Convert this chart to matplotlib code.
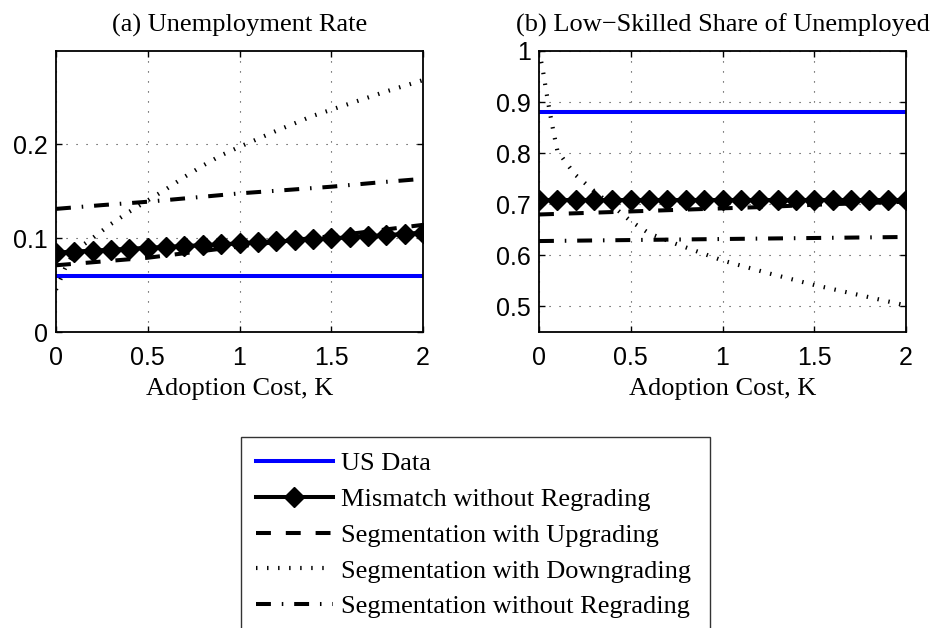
import matplotlib
matplotlib.use("Agg")
import matplotlib.pyplot as plt

# ----- Data -----
k_grid = [0.0, 0.1, 0.2, 0.3, 0.4, 0.5, 0.6, 0.7, 0.8, 0.9, 1.0,
          1.1, 1.2, 1.3, 1.4, 1.5, 1.6, 1.7, 1.8, 1.9, 2.0]
k_ends = [0.0, 2.0]
k_coarse = [0.0, 0.25, 0.5, 0.75, 1.0, 1.25, 1.5, 1.75, 2.0]
k_dg_u = [0.0, 0.05, 0.1, 0.15, 0.2, 0.3, 0.4, 0.5, 0.6, 0.7, 0.8, 0.9,
          1.0, 1.2, 1.4, 1.6, 1.8, 2.0]
k_dg_s = [0.0, 0.02, 0.04, 0.06, 0.08, 0.1, 0.15, 0.2, 0.3, 0.4, 0.5, 0.6,
          0.75, 1.0, 1.25, 1.5, 1.75, 2.0]

# (a) unemployment rate
us_u = [0.06, 0.06]
mismatch_u = [0.0845, 0.0856, 0.0866, 0.0876, 0.0886, 0.0896, 0.0906,
              0.0915, 0.0924, 0.0933, 0.0943, 0.0953, 0.0963, 0.0974,
              0.0985, 0.0996, 0.1008, 0.1019, 0.1031, 0.1044, 0.1058]
upgrade_u = [0.071, 0.075, 0.079, 0.085, 0.091, 0.097, 0.102, 0.108, 0.114]
downgrade_u = [0.045, 0.068, 0.085, 0.093, 0.100, 0.115, 0.128, 0.140,
               0.152, 0.165, 0.177, 0.188, 0.197, 0.214, 0.230, 0.243,
               0.256, 0.268]
noregrade_u = [0.131, 0.135, 0.1386, 0.143, 0.1475, 0.151, 0.1546, 0.159, 0.163]

# (b) low-skilled share of unemployed
us_s = [0.88, 0.88]
mismatch_s = [0.709, 0.709, 0.709, 0.709, 0.709, 0.709, 0.709, 0.709,
              0.709, 0.709, 0.709, 0.709, 0.709, 0.709, 0.709, 0.709,
              0.709, 0.709, 0.709, 0.709, 0.709]
upgrade_s = [0.680, 0.683, 0.686, 0.689, 0.692, 0.695, 0.699, 0.702, 0.705]
downgrade_s = [1.0, 0.965, 0.92, 0.878, 0.840, 0.805, 0.780, 0.757, 0.726,
               0.697, 0.667, 0.643, 0.622, 0.590, 0.565, 0.542, 0.522, 0.502]
noregrade_s = [0.628, 0.629, 0.630, 0.631, 0.632, 0.633, 0.634, 0.635, 0.636]

labels = ["US Data", "Mismatch without Regrading", "Segmentation with Upgrading",
          "Segmentation with Downgrading", "Segmentation without Regrading"]

SERIF = "Liberation Serif"
SANS = "Liberation Sans"
LW = 2.9

fig = plt.figure(figsize=(9.32, 6.28), dpi=100)
ax1 = fig.add_axes([56 / 932, 1 - 332 / 628, 367 / 932, 281 / 628])
ax2 = fig.add_axes([539 / 932, 1 - 332 / 628, 367 / 932, 281 / 628])


def draw(ax, us, mm, up, dg, k_dg, nr):
    h = []
    h += ax.plot(k_ends, us, color=(0, 0, 1), lw=LW)
    h += ax.plot(k_grid, mm, color="black", lw=LW, marker="D", markersize=10)
    h += ax.plot(k_coarse, up, color="black", lw=LW, linestyle=(0, (3.7, 3.7)))
    # thick line with very short dashes -> thin cross marks like the original
    h += ax.plot(k_dg, dg, color="black", lw=3.0, linestyle=(0, (0.35, 2.3)))
    h += ax.plot(k_coarse, nr, color="black", lw=LW,
                 linestyle=(0, (3.7, 2.7, 0.38, 2.7)))
    ax.set_xlim(0, 2)
    ax.set_xticks([0, 0.5, 1, 1.5, 2])
    ax.set_xticklabels(["0", "0.5", "1", "1.5", "2"])
    ax.grid(True, color="0.2", lw=0.8, linestyle=(0, (1, 8)))
    ax.tick_params(direction="in", length=4, width=1, top=True, right=True,
                   labelsize=18, pad=6)
    ax.tick_params(axis="x", pad=10)
    for lab in ax.get_xticklabels() + ax.get_yticklabels():
        lab.set_fontfamily(SANS)
    for sp in ax.spines.values():
        sp.set_linewidth(1.3)
    ax.set_xlabel("Adoption Cost, K", fontsize=19, fontfamily=SERIF, labelpad=6)
    return h


handles = draw(ax1, us_u, mismatch_u, upgrade_u, downgrade_u, k_dg_u, noregrade_u)
ax1.set_ylim(0, 0.299)
ax1.set_yticks([0, 0.1, 0.2])
ax1.set_yticklabels(["0", "0.1", "0.2"], fontfamily=SANS)
ax1.set_title("(a) Unemployment Rate", fontsize=19, fontfamily=SERIF, pad=14)

draw(ax2, us_s, mismatch_s, upgrade_s, downgrade_s, k_dg_s, noregrade_s)
ax2.set_ylim(0.45, 1.0)
ax2.set_yticks([0.5, 0.6, 0.7, 0.8, 0.9, 1.0])
ax2.set_yticklabels(["0.5", "0.6", "0.7", "0.8", "0.9", "1"], fontfamily=SANS)
ax2.set_title("(b) Low\u2212Skilled Share of Unemployed", fontsize=19,
              fontfamily=SERIF, pad=14)

leg = fig.legend(handles, labels, loc="upper left",
                 bbox_to_anchor=(241 / 932, 1 - 437 / 628 - 0.01, 469 / 932, 0.01),
                 mode="expand", prop={"family": SERIF, "size": 19},
                 frameon=True, fancybox=False, edgecolor="black",
                 handlelength=2.95, handletextpad=0.3, borderpad=0.55,
                 labelspacing=0.47, borderaxespad=0, numpoints=1)
leg.get_frame().set_linewidth(1.0)

fig.savefig("out.png", dpi=100)
